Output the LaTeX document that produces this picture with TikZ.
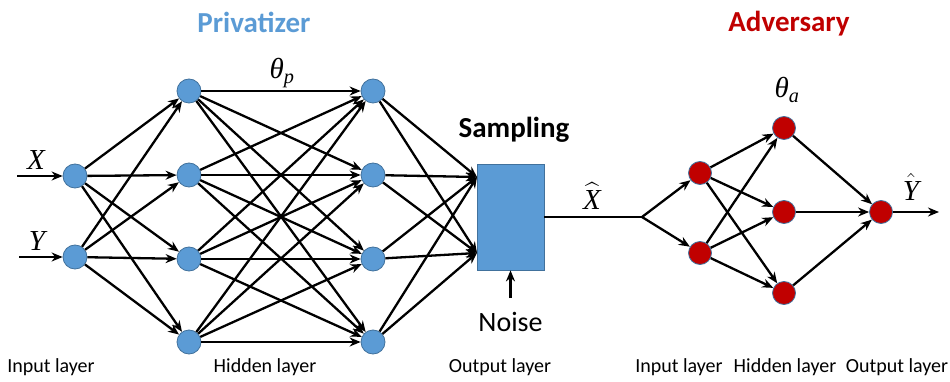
\RequirePackage{fix-cm}
\documentclass[tikz,border=0pt]{standalone}
\usepackage{amsmath}
\usepackage{fontspec}
\setmainfont{Carlito}
\newfontfamily\mfont{Liberation Serif}
\newcommand\mi[1]{\text{\mfont\itshape #1}}
\usetikzlibrary{arrows.meta}
\definecolor{pblue}{HTML}{5B9BD5}
\definecolor{pborder}{HTML}{41719C}
\definecolor{ared}{HTML}{C00000}
\begin{document}
\begin{tikzpicture}[x=1pt,y=-1pt,
  pn/.style={circle,fill=pblue,draw=pborder,line width=0.8pt,minimum size=24pt,inner sep=0pt},
  an/.style={circle,fill=ared,draw=pborder,line width=0.8pt,minimum size=23pt,inner sep=0pt},
  wire/.style={line width=2.3pt,-{Stealth[length=11pt,width=9pt]}},
  plain/.style={line width=2.3pt},
  lab/.style={font=\fontsize{20}{22}\selectfont},
  title/.style={font=\fontsize{29}{32}\selectfont\bfseries},
  mth/.style={font=\fontsize{29}{30}\selectfont}]
\useasboundingbox (0,0) rectangle (950,382);
% privatizer nodes
\node[pn] (i1) at (75,176) {};
\node[pn] (i2) at (75,257) {};
\foreach \k/\y in {1/91,2/175,3/259,4/342}{
  \node[pn] (h\k) at (189,\y) {};
  \node[pn] (g\k) at (373,\y) {};
}
\node[rectangle,fill=pblue,draw=pborder,line width=0.8pt,minimum width=67pt,minimum height=106pt,inner sep=0pt] (box) at (510.5,217) {};
\coordinate (b1) at (477,177);
\coordinate (b2) at (477,253);
% edges
\coordinate (xs) at (17,176);
\coordinate (ys) at (19,257);
\draw[wire] (xs) -- (i1);
\draw[wire] (ys) -- (i2);
\foreach \a in {1,2}{\foreach \b in {1,2,3,4}{\draw[wire] (i\a) -- (h\b);}}
\foreach \a in {1,2,3,4}{\foreach \b in {1,2,3,4}{\draw[wire] (h\a) -- (g\b);}}
\foreach \a in {1,2,3,4}{\draw[wire] (g\a) -- (b1); \draw[wire] (g\a) -- (b2);}
\coordinate (ns) at (510.5,298);
\draw[wire] (ns) -- (box.south);
% labels
\node[mth] (lx) at (36,160) {$\mi{X}$};
\node[mth] (ly) at (37,241) {$\mi{Y}$};
\node[mth] (tp) at (282,73) {$\mi{θ}_{\mi{p}}$};
\node[title,text=pblue] (tpriv) at (254,22) {Privatizer};
\node[title] (samp) at (514,130) {Sampling};
\node[font=\fontsize{28}{30}\selectfont] (noise) at (510.5,322) {Noise};
% adversary
\node[an] (a1) at (700,173) {};
\node[an] (a2) at (700,253) {};
\node[an] (c1) at (784,128) {};
\node[an] (c2) at (784,212) {};
\node[an] (c3) at (784,293) {};
\node[an] (o) at (881,212) {};
\coordinate (sp) at (642,217);
\coordinate (oe) at (939,212);
\draw[plain] (box.east |- sp) -- (sp);
\draw[wire] (sp) -- (a1);
\draw[wire] (sp) -- (a2);
\foreach \a in {1,2}{\foreach \b in {1,2,3}{\draw[wire] (a\a) -- (c\b);}}
\foreach \b in {1,2,3}{\draw[wire] (c\b) -- (o);}
\draw[wire] (o) -- (oe);
\node[mth] (xh) at (592,196) {$\widehat{\mi{X}}$};
\node[mth] (yh) at (911,187) {$\hat{\mi{Y}}$};
\node[mth] (ta) at (787,90) {$\mi{θ}_{\mi{a}}$};
\node[title,text=ared] (tadv) at (789,24) {Adversary};
% layer labels
\node[lab] (l1) at (51,367) {Input layer};
\node[lab] (l2) at (265,367) {Hidden layer};
\node[lab] (l3) at (500,367) {Output layer};
\node[lab] (l4) at (679,367) {Input layer};
\node[lab] (l5) at (785,367) {Hidden layer};
\node[lab] (l6) at (897,367) {Output layer};
\end{tikzpicture}
\end{document}
